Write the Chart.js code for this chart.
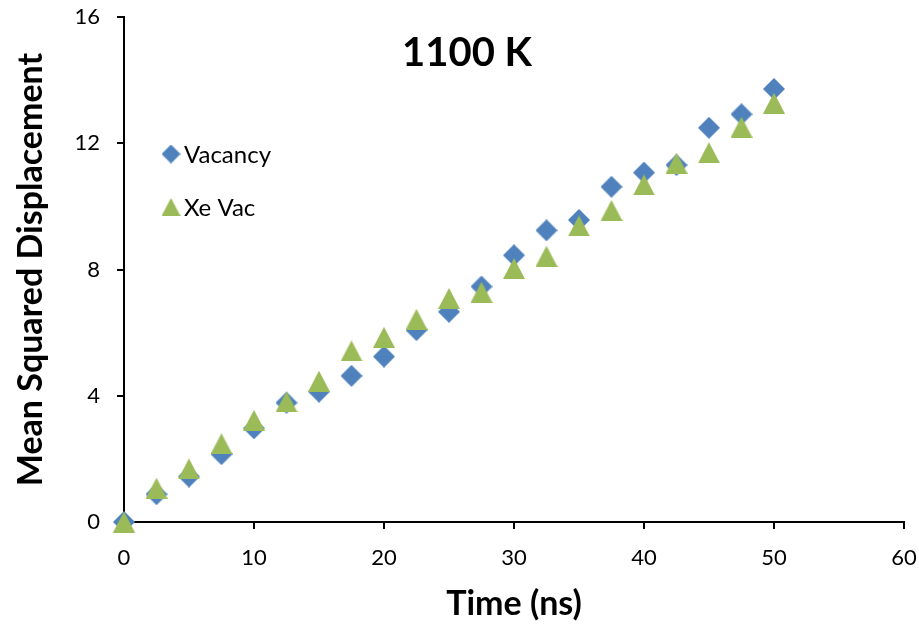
<!DOCTYPE html>
<html>
<head>
<meta charset="utf-8">
<script src="https://cdn.jsdelivr.net/npm/chart.js@4/dist/chart.umd.min.js"></script>
<style>
  html, body { margin: 0; padding: 0; background: #fff; }
  #wrap { width: 919px; height: 626px; position: relative; }
</style>
</head>
<body>
<div id="wrap"><canvas id="c" width="919" height="626"></canvas></div>
<script>
// Simulation time (ns)
const times = [0, 2.5, 5, 7.5, 10, 12.5, 15, 17.5, 20, 22.5, 25, 27.5, 30, 32.5, 35, 37.5, 40, 42.5, 45, 47.5, 50];
// Mean squared displacement of a single vacancy
const vacancy = [0, 0.88, 1.44, 2.15, 2.97, 3.78, 4.13, 4.63, 5.24, 6.08, 6.66, 7.46, 8.45, 9.24, 9.57, 10.62, 11.07, 11.31, 12.49, 12.92, 13.72];
// Mean squared displacement of the Xe-vacancy complex
const xeVac = [0, 1.07, 1.68, 2.48, 3.22, 3.81, 4.46, 5.42, 5.85, 6.42, 7.08, 7.28, 8.03, 8.42, 9.38, 9.87, 10.68, 11.37, 11.70, 12.51, 13.27];
const xTicks = [0, 10, 20, 30, 40, 50, 60];
const yTicks = [0, 4, 8, 12, 16];
const titleText = '1100 K';
const seriesNames = ['Vacancy', 'Xe Vac'];

const BLUE = '#4F81BD';
const GREEN = '#9BBB59';
const FONT = 'Lato, "Open Sans", sans-serif';

// Marker sprites: a diamond and an upward triangle, both centred in their canvas
function diamondSprite(size, color) {
  const cv = document.createElement('canvas');
  cv.width = size; cv.height = size;
  const g = cv.getContext('2d');
  const h = size / 2;
  g.fillStyle = color;
  g.beginPath();
  g.moveTo(h, 0); g.lineTo(size, h); g.lineTo(h, size); g.lineTo(0, h);
  g.closePath(); g.fill();
  return cv;
}
function triangleSprite(w, hgt, color) {
  const cv = document.createElement('canvas');
  cv.width = w; cv.height = hgt;
  const g = cv.getContext('2d');
  g.fillStyle = color;
  g.beginPath();
  g.moveTo(w / 2, 0); g.lineTo(w, hgt); g.lineTo(0, hgt);
  g.closePath(); g.fill();
  return cv;
}
const diamond = diamondSprite(22, BLUE);
const triangle = triangleSprite(22, 21, GREEN);
const diamondSmall = diamondSprite(19, BLUE);
const triangleSmall = triangleSprite(19, 18, GREEN);

const toPoints = (xs, ys) => xs.map((x, i) => ({ x: x, y: ys[i] }));

// Title and in-plot legend
const overlay = {
  id: 'overlay',
  afterDraw(chart) {
    const ctx = chart.ctx;
    ctx.save();
    ctx.fillStyle = '#000';
    ctx.textAlign = 'center';
    ctx.textBaseline = 'middle';
    ctx.font = 'bold 40px ' + FONT;
    ctx.fillText(titleText, 467, 53);

    ctx.font = '24px ' + FONT;
    ctx.textAlign = 'left';
    const sprites = [diamondSmall, triangleSmall];
    const rows = [154, 207];
    seriesNames.forEach((name, i) => {
      const s = sprites[i];
      ctx.drawImage(s, 171 - s.width / 2, rows[i] - s.height / 2);
      ctx.fillText(name, 184, rows[i] + 1);
    });
    ctx.restore();
  }
};

new Chart(document.getElementById('c'), {
  type: 'scatter',
  data: {
    datasets: [
      {
        label: seriesNames[0],
        data: toPoints(times, vacancy),
        pointStyle: diamond,
        backgroundColor: BLUE,
        borderColor: BLUE,
        order: 1,
        clip: false
      },
      {
        label: seriesNames[1],
        data: toPoints(times, xeVac),
        pointStyle: triangle,
        backgroundColor: GREEN,
        borderColor: GREEN,
        order: 0,
        clip: false
      }
    ]
  },
  options: {
    responsive: false,
    animation: false,
    events: [],
    layout: { padding: { left: 0, top: 17, right: 15, bottom: 0 } },
    plugins: {
      legend: { display: false },
      title: { display: false },
      tooltip: { enabled: false }
    },
    scales: {
      x: {
        type: 'linear',
        min: xTicks[0],
        max: xTicks[xTicks.length - 1],
        afterBuildTicks: (s) => { s.ticks = xTicks.map(v => ({ value: v })); },
        afterFit: (s) => { s.height = 104; s.paddingLeft = 0; s.paddingRight = 0; },
        ticks: { color: '#000', font: { family: FONT, size: 22 }, padding: 16, maxRotation: 0 },
        grid: { drawOnChartArea: false, drawTicks: true, tickLength: 7, color: '#000', lineWidth: 2 },
        border: { display: true, color: '#000', width: 2 },
        title: {
          display: true,
          text: 'Time (ns)',
          color: '#000',
          font: { family: FONT, size: 34, weight: 'bold' },
          padding: { top: 0, bottom: 2 }
        }
      },
      y: {
        type: 'linear',
        min: yTicks[0],
        max: yTicks[yTicks.length - 1],
        afterBuildTicks: (s) => { s.ticks = yTicks.map(v => ({ value: v })); },
        afterFit: (s) => { s.width = 124; s.paddingTop = 0; s.paddingBottom = 0; },
        ticks: { color: '#000', font: { family: FONT, size: 22 }, padding: 17 },
        grid: { drawOnChartArea: false, drawTicks: true, tickLength: 7, color: '#000', lineWidth: 2 },
        border: { display: true, color: '#000', width: 2 },
        title: {
          display: true,
          text: 'Mean Squared Displacement',
          color: '#000',
          font: { family: FONT, size: 34, weight: 'bold' },
          padding: { top: 11, bottom: 0 }
        }
      }
    }
  },
  plugins: [overlay]
});
</script>
</body>
</html>
